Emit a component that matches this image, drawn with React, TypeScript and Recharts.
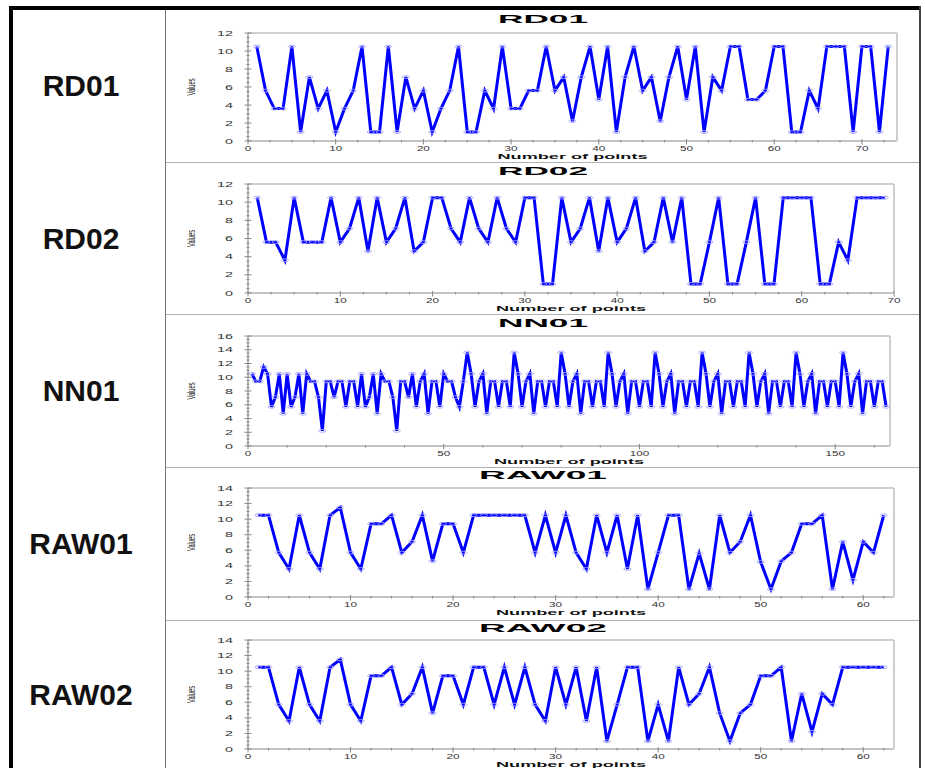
import React from 'react';
import { LineChart, Line, XAxis, YAxis } from 'recharts';

const FONT = '"Liberation Sans", Arial, Helvetica, sans-serif';

// values (point index starts at 1)
const rd01Values = [
  10.5, 5.6, 3.6, 3.6, 10.5, 1, 7.1, 3.6, 5.6, 1,
  3.6, 5.6, 10.5, 1, 1, 10.5, 1, 7.1, 3.6, 5.6,
  1, 3.6, 5.6, 10.5, 1, 1, 5.6, 3.6, 10.5, 3.6,
  3.6, 5.6, 5.6, 10.5, 5.6, 7.1, 2.2, 7.1, 10.5, 4.6,
  10.5, 1, 7.1, 10.5, 5.6, 7.1, 2.2, 7.1, 10.5, 4.6,
  10.5, 1, 7.1, 5.6, 10.5, 10.5, 4.6, 4.6, 5.6, 10.5,
  10.5, 1, 1, 5.6, 3.6, 10.5, 10.5, 10.5, 1, 10.5,
  10.5, 1, 10.5,
];

const rd02Values = [
  10.5, 5.6, 5.6, 3.6, 10.5, 5.6, 5.6, 5.6, 10.5, 5.6,
  7.1, 10.5, 4.6, 10.5, 5.6, 7.1, 10.5, 4.6, 5.6, 10.5,
  10.5, 7.1, 5.6, 10.5, 7.1, 5.6, 10.5, 7.1, 5.6, 10.5,
  10.5, 1, 1, 10.5, 5.6, 7.1, 10.5, 4.6, 10.5, 5.6,
  7.1, 10.5, 4.6, 5.6, 10.5, 5.6, 10.5, 1, 1, 5.6,
  10.5, 1, 1, 5.6, 10.5, 1, 1, 10.5, 10.5, 10.5,
  10.5, 1, 1, 5.6, 3.6, 10.5, 10.5, 10.5, 10.5,
];

const nn01Values = [
  10.5, 9.4, 9.4, 11.5, 10.5, 5.7, 7.1, 10.5, 4.7, 10.5,
  5.7, 7.1, 10.5, 4.7, 10.5, 9.4, 9.4, 7.1, 2.2, 9.4,
  9.4, 7.1, 9.4, 9.4, 5.7, 9.4, 9.4, 5.7, 10.5, 5.7,
  7.1, 10.5, 4.7, 10.5, 9.4, 9.4, 7.1, 2.2, 9.4, 9.4,
  7.1, 10.5, 5.7, 9.4, 10.5, 4.7, 9.4, 9.4, 5.7, 10.5,
  9.4, 9.4, 7.1, 5.7, 9.4,
  13.6, 10.5, 5.7, 9.4, 10.5, 4.7, 9.4, 9.4, 5.7, 9.4, 9.4, 5.7,
  13.6, 10.5, 5.7, 9.4, 10.5, 4.7, 9.4, 9.4, 5.7, 9.4, 9.4, 5.7,
  13.6, 10.5, 5.7, 9.4, 10.5, 4.7, 9.4, 9.4, 5.7, 9.4, 9.4, 5.7,
  13.6, 10.5, 5.7, 9.4, 10.5, 4.7, 9.4, 9.4, 5.7, 9.4, 9.4, 5.7,
  13.6, 10.5, 5.7, 9.4, 10.5, 4.7, 9.4, 9.4, 5.7, 9.4, 9.4, 5.7,
  13.6, 10.5, 5.7, 9.4, 10.5, 4.7, 9.4, 9.4, 5.7, 9.4, 9.4, 5.7,
  13.6, 10.5, 5.7, 9.4, 10.5, 4.7, 9.4, 9.4, 5.7, 9.4, 9.4, 5.7,
  13.6, 10.5, 5.7, 9.4, 10.5, 4.7, 9.4, 9.4, 5.7, 9.4, 9.4, 5.7,
  13.6, 10.5, 5.7, 9.4, 10.5, 4.7, 9.4, 9.4, 5.7, 9.4, 9.4, 5.7,
];

const raw01Values = [
  10.5, 10.5, 5.7, 3.6, 10.5, 5.7, 3.6, 10.5, 11.5, 5.7,
  3.6, 9.4, 9.4, 10.5, 5.7, 7.1, 10.5, 4.6, 9.4, 9.4,
  5.7, 10.5, 10.5, 10.5, 10.5, 10.5, 10.5, 5.7, 10.5, 5.7,
  10.5, 5.7, 3.6, 10.5, 5.7, 10.5, 3.6, 10.5, 1, 5.7,
  10.5, 10.5, 1, 5.6, 1, 10.5, 5.7, 7.1, 10.5, 4.5,
  1, 4.6, 5.7, 9.4, 9.4, 10.5, 1, 7.1, 2.2, 7.1,
  5.7, 10.5,
];

const raw02Values = [
  10.5, 10.5, 5.7, 3.6, 10.5, 5.7, 3.6, 10.5, 11.5, 5.7,
  3.6, 9.4, 9.4, 10.5, 5.7, 7.1, 10.5, 4.6, 9.4, 9.4,
  5.7, 10.5, 10.5, 5.7, 10.5, 5.7, 10.5, 5.7, 3.6, 10.5,
  5.7, 10.5, 3.6, 10.5, 1, 5.7, 10.5, 10.5, 1, 5.7,
  1, 10.5, 5.7, 7.1, 10.5, 4.6, 1, 4.6, 5.7, 9.4,
  9.4, 10.5, 1, 7.1, 2.2, 7.1, 5.7, 10.5, 10.5, 10.5,
  10.5, 10.5,
];

// tick labels
const xLabels10 = [0, 10, 20, 30, 40, 50, 60, 70];
const xLabels10short = [0, 10, 20, 30, 40, 50, 60];
const xLabels50 = [0, 50, 100, 150];
const yLabels12 = [0, 2, 4, 6, 8, 10, 12];
const yLabels14 = [0, 2, 4, 6, 8, 10, 12, 14];
const yLabels16 = [0, 2, 4, 6, 8, 10, 12, 14, 16];

const panels = [
  { name: 'RD01', values: rd01Values, top: 10, h: 152, plotTop: 33, plotBottom: 141, plotRight: 897, xMax: 74, xStep: 2.5, xLabels: xLabels10, yMax: 12, yLabels: yLabels12, titleY: 23, titleW: 90 },
  { name: 'RD02', values: rd02Values, top: 163, h: 151, plotTop: 184, plotBottom: 293, plotRight: 894, xMax: 70, xStep: 2.5, xLabels: xLabels10, yMax: 12, yLabels: yLabels12, titleY: 175, titleW: 90 },
  { name: 'NN01', values: nn01Values, top: 315, h: 152, plotTop: 336, plotBottom: 446, plotRight: 890, xMax: 164, xStep: 10, xLabels: xLabels50, yMax: 16, yLabels: yLabels16, titleY: 327, titleW: 90 },
  { name: 'RAW01', values: raw01Values, top: 468, h: 152, plotTop: 488, plotBottom: 597, plotRight: 894, xMax: 63, xStep: 2, xLabels: xLabels10short, yMax: 14, yLabels: yLabels14, titleY: 479, titleW: 128 },
  { name: 'RAW02', values: raw02Values, top: 621, h: 147, plotTop: 640, plotBottom: 749, plotRight: 894, xMax: 63, xStep: 2, xLabels: xLabels10short, yMax: 14, yLabels: yLabels14, titleY: 632, titleW: 128 },
];

const rowLines = [162, 314, 467, 620];

const CELL_LEFT = 166;
const CELL_RIGHT = 920;

function tickSteps(max: number, step: number) {
  const out: number[] = [];
  for (let v = 0; v <= max + 1e-9; v += step) out.push(Math.round(v * 100) / 100);
  return out;
}

const isMajor = (v: number, labels: number[]) => labels.some((l) => Math.abs(l - v) < 1e-6);

function XTick(props: any) {
  const { x, y, payload, labels } = props;
  const major = isMajor(payload.value, labels);
  const s = String(payload.value);
  return (
    <g>
      <line x1={x} x2={x} y1={y - (major ? 2 : 1)} y2={y + (major ? 3.5 : 1.5)} stroke="#888" />
      {major && (
        <text x={x} y={y + 10} textAnchor="middle" fontSize={7} fill="#333" fontFamily={FONT}
          textLength={s.length * 6.5} lengthAdjust="spacingAndGlyphs">{s}</text>
      )}
    </g>
  );
}

function YTick(props: any) {
  const { x, y, payload, labels } = props;
  const major = isMajor(payload.value, labels);
  const s = String(payload.value);
  return (
    <g>
      <line x1={x - (major ? 3.5 : 1.5)} x2={x + (major ? 3.5 : 1.5)} y1={y} y2={y} stroke="#888" />
      {major && (
        <text x={x - 15} y={y + 2.5} textAnchor="end" fontSize={7} fill="#333" fontFamily={FONT}
          textLength={s.length * 8} lengthAdjust="spacingAndGlyphs">{s}</text>
      )}
    </g>
  );
}

function ValuesLabel(props: any) {
  const { x, y, height } = props.viewBox;
  const cx = x + 25;
  const cy = y + height / 2;
  return (
    <text x={cx} y={cy} transform={`rotate(-90 ${cx} ${cy})`} textAnchor="middle" dominantBaseline="central"
      fontSize={11} fill="#111" fontFamily={FONT} textLength={17} lengthAdjust="spacingAndGlyphs">Values</text>
  );
}

function PointsLabel(props: any) {
  const { x, y, width } = props.viewBox;
  return (
    <text x={x + width / 2} y={y + 18} textAnchor="middle" fontSize={8} fontWeight="bold" fill="#111"
      fontFamily={FONT} textLength={150} lengthAdjust="spacingAndGlyphs">Number of points</text>
  );
}

function renderDot(props: any) {
  const { cx, cy, index } = props;
  return <ellipse key={`d-${index}`} cx={cx} cy={cy} rx={3.6} ry={1.4} fill="none" stroke="#a4a4ff" strokeWidth={0.9} />;
}

function Panel({ p }: { p: (typeof panels)[number] }) {
  const data = p.values.map((v, i) => ({ x: i + 1, v }));
  const width = CELL_RIGHT - CELL_LEFT;
  const xTicks = tickSteps(p.xMax, p.xStep);
  const yTicks = tickSteps(p.yMax, 0.5);
  return (
    <div style={{ position: 'absolute', left: CELL_LEFT, top: p.top, width, height: p.h }}>
      <svg width={width} height={30} style={{ position: 'absolute', left: 0, top: 0 }}>
        <text x={width / 2} y={p.titleY - p.top} textAnchor="middle" fontSize={11} fontWeight="bold" fill="#000"
          fontFamily={FONT} textLength={p.titleW} lengthAdjust="spacingAndGlyphs">{p.name}</text>
      </svg>
      <LineChart width={width} height={p.h} data={data}
        margin={{ top: p.plotTop - p.top, right: CELL_RIGHT - p.plotRight, left: 0, bottom: 0 }}>
        <XAxis xAxisId="bottom" dataKey="x" type="number" domain={[0, p.xMax]} ticks={xTicks} interval={0}
          allowDataOverflow height={p.h - (p.plotBottom - p.top)} tickSize={0} tickMargin={0} tickLine={false}
          axisLine={{ stroke: '#888' }} tick={<XTick labels={p.xLabels} />} label={<PointsLabel />} />
        <XAxis xAxisId="top" orientation="top" dataKey="x" type="number" domain={[0, p.xMax]} ticks={xTicks}
          interval={0} allowDataOverflow mirror height={1} tick={false} tickSize={2}
          tickLine={{ stroke: '#aaa' }} axisLine={{ stroke: '#cfcfcf', strokeWidth: 2 }} />
        <YAxis yAxisId="left" type="number" domain={[0, p.yMax]} ticks={yTicks} interval={0} allowDataOverflow
          width={82} tickSize={0} tickMargin={0} tickLine={false} axisLine={{ stroke: '#777' }}
          tick={<YTick labels={p.yLabels} />} label={<ValuesLabel />} />
        <YAxis yAxisId="right" orientation="right" type="number" domain={[0, p.yMax]} ticks={yTicks}
          interval={0} allowDataOverflow mirror width={1} tick={false} tickSize={2}
          tickLine={{ stroke: '#aaa' }} axisLine={{ stroke: '#cfcfcf', strokeWidth: 2 }} />
        <Line xAxisId="bottom" yAxisId="left" type="linear" dataKey="v" stroke="#0000ff" strokeWidth={3}
          dot={renderDot} activeDot={false} isAnimationActive={false} />
      </LineChart>
    </div>
  );
}

export default function App() {
  return (
    <div style={{ position: 'absolute', left: 0, top: 0, width: 925, height: 768, overflow: 'hidden', background: '#fff', fontFamily: FONT }}>
      {/* table frame */}
      <div style={{ position: 'absolute', left: 9, top: 6, width: 912, height: 4, background: '#000' }} />
      <div style={{ position: 'absolute', left: 9, top: 6, width: 4, height: 762, background: '#000' }} />
      <div style={{ position: 'absolute', left: 919, top: 6, width: 2, height: 762, background: '#444' }} />
      <div style={{ position: 'absolute', left: 165, top: 10, width: 1, height: 758, background: '#777' }} />
      {rowLines.map((y) => (
        <div key={y} style={{ position: 'absolute', left: 166, top: y, width: 753, height: 1, background: '#b0b0b0' }} />
      ))}
      {panels.map((p) => (
        <React.Fragment key={p.name}>
          <div style={{
            position: 'absolute', left: 13, top: p.top, width: 136, height: p.h, display: 'flex',
            alignItems: 'center', justifyContent: 'center', fontSize: 30, fontWeight: 'bold', color: '#111',
          }}>{p.name}</div>
          <Panel p={p} />
        </React.Fragment>
      ))}
    </div>
  );
}
